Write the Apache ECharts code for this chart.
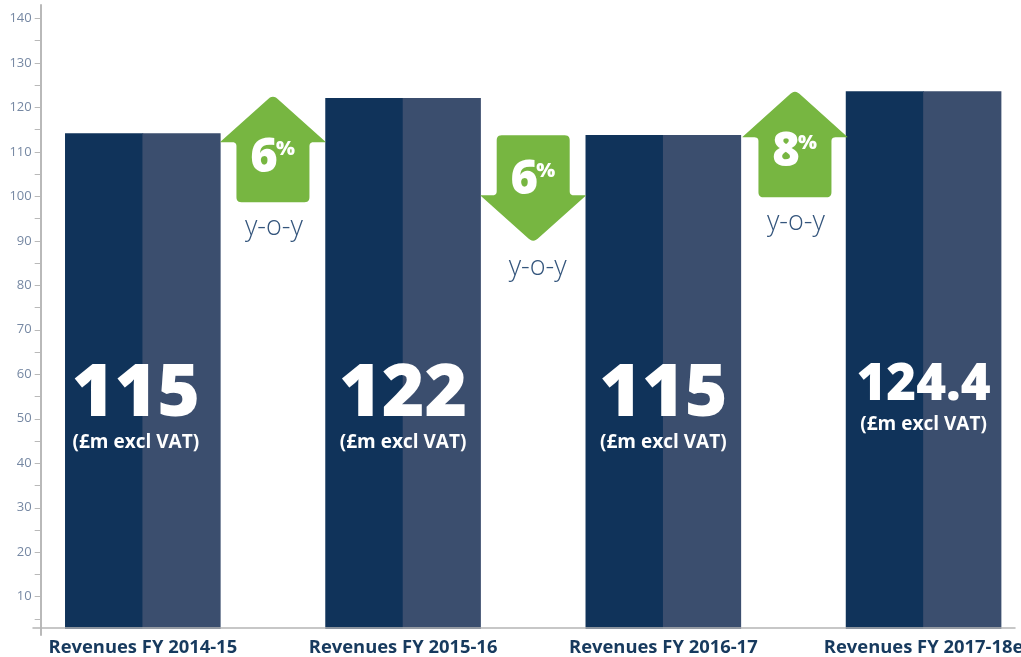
<!DOCTYPE html>
<html><head><meta charset="utf-8">
<style>html,body{margin:0;padding:0;background:#fff}#c{width:1021px;height:657px}</style>
<script src="https://cdn.jsdelivr.net/npm/echarts@6/dist/echarts.min.js"></script>
</head><body><div id="c"></div>
<script>
var categories = ['Revenues FY 2014-15','Revenues FY 2015-16','Revenues FY 2016-17','Revenues FY 2017-18e'];
var barValues = [114.2, 122.1, 113.8, 123.6];
var bigLabels = ['115','122','115','124.4'];
var bigLabelAt = [55.3, 55.3, 55.3, 57.5];
var subLabel = '(£m excl VAT)';
var subLabelAt = [44.6, 44.6, 44.6, 48.7];
var bigSizes = [73, 73, 73, 51];
var changes = ['6','6','8'];
var changeDirs = [1,-1,1];
var tipValues = [122.5, 89.9, 123.6];
var yoyAt = [93, 84, 94.2];
var tickValues = [5,10,15,20,25,30,35,40,45,50,55,60,65,70,75,80,85,90,95,100,105,110,115,120,125,130,135,140];
var labelValues = [10,20,30,40,50,60,70,80,90,100,110,120,130,140];

var GREEN='#77b641', DARK='#10335a', LIGHT='#3b4e6e', FONT='"Open Sans"';

function roundPoly(pts, radii){
  var out=[], n=pts.length;
  for(var k=0;k<n;k++){
    var p=pts[k], a=pts[(k+n-1)%n], b=pts[(k+1)%n], r=radii[k];
    var la=Math.hypot(a[0]-p[0],a[1]-p[1]), lb=Math.hypot(b[0]-p[0],b[1]-p[1]);
    var s=[p[0]+(a[0]-p[0])*r/la,p[1]+(a[1]-p[1])*r/la], e=[p[0]+(b[0]-p[0])*r/lb,p[1]+(b[1]-p[1])*r/lb];
    for(var t=0;t<=6;t++){
      var u=t/6, v=1-u;
      out.push([v*v*s[0]+2*u*v*p[0]+u*u*e[0], v*v*s[1]+2*u*v*p[1]+u*u*e[1]]);
    }
  }
  return out;
}
function labelItem(params, api){
  var i=params.dataIndex;
  var cx=api.coord([i,0])[0]+(i===0?-7:0);
  return {type:'group',children:[
    {type:'text',style:{text:bigLabels[i],x:cx,y:api.coord([i,bigLabelAt[i]])[1],align:'center',verticalAlign:'middle',
      font:'800 '+bigSizes[i]+'px '+FONT,fill:'#fff'}},
    {type:'text',style:{text:subLabel,x:cx,y:api.coord([i,subLabelAt[i]])[1],align:'center',verticalAlign:'middle',
      font:'700 19px '+FONT,fill:'#fff'}}
  ]};
}
function arrowItem(params, api){
  var i=params.dataIndex;
  var d=changeDirs[i];
  var x0=api.coord([i,0])[0], x1=api.coord([i+1,0])[0];
  var cx=(x0+x1)/2+(i===2?1.5:0);
  var base=api.coord([i,tipValues[i]])[1];
  var tip=base-d*1.5;
  var wing=tip+d*47.5, end=tip+d*107.5;
  var w=53,s=36.5;
  var pts=[[cx,tip],[cx+w,wing],[cx+s,wing],[cx+s,end],[cx-s,end],[cx-s,wing],[cx-w,wing]];
  var rad=[6,1,4,5,5,4,1];
  var digitY=(d>0)?base+62-(i===2?1:0):base-61, pctY=digitY-9;
  return {type:'group',children:[
    {type:'polygon',shape:{points:roundPoly(pts,rad)},style:{fill:GREEN}},
    {type:'text',style:{text:changes[i],x:cx-9,y:digitY,align:'center',verticalAlign:'middle',font:'800 47px '+FONT,fill:'#fff'}},
    {type:'text',style:{text:'%',x:cx+12.5,y:pctY,align:'center',verticalAlign:'middle',font:'800 20px '+FONT,fill:'#fff'}},
    {type:'text',style:{text:'y-o-y',x:cx+(i===1?4.5:1),y:api.coord([i,yoyAt[i]])[1],align:'center',verticalAlign:'middle',font:'300 27px '+FONT,fill:'#34557c'}}
  ]};
}

var chart=echarts.init(document.getElementById('c'),null,{renderer:'canvas'});
chart.setOption({
  animation:false,
  backgroundColor:'#fff',
  grid:[
    {left:12.7,width:1041,top:5,height:624,containLabel:false,outerBoundsMode:'none'},
    {left:33,right:6,top:627,height:1,outerBoundsMode:'none'},
    {left:41,width:1,top:5,height:630,outerBoundsMode:'none'}
  ],
  xAxis:[
    {type:'category',gridIndex:0,data:categories,axisLine:{show:false},axisTick:{show:false},
     axisLabel:{color:'#173a5e',fontFamily:FONT,fontWeight:700,fontSize:18.4,margin:10,interval:0,hideOverlap:false}},
    {type:'value',gridIndex:1,min:0,max:1,position:'bottom',z:10,splitLine:{show:false},axisTick:{show:false},axisLabel:{show:false},
     axisLine:{show:true,onZero:false,lineStyle:{color:'#b5b5b5',width:1.5}}},
    {type:'value',gridIndex:2,show:false,min:0,max:1}
  ],
  yAxis:[
    {type:'value',gridIndex:0,min:2.75,max:143,offset:-29,position:'left',splitLine:{show:false},
     axisLine:{show:false},
     axisTick:{show:true,length:7,customValues:tickValues,lineStyle:{color:'#b9b9b9',width:1}},
     axisLabel:{customValues:labelValues,color:'#7688a3',fontFamily:FONT,fontSize:13,margin:10}},
    {type:'value',gridIndex:1,show:false,min:0,max:1},
    {type:'value',gridIndex:2,min:0,max:1,position:'left',splitLine:{show:false},axisTick:{show:false},axisLabel:{show:false},
     axisLine:{show:true,onZero:false,lineStyle:{color:'#b9b9b9',width:2}}}
  ],
  series:[
    {type:'bar',name:'a',xAxisIndex:0,yAxisIndex:0,data:barValues,barWidth:78.2,barGap:'-1%',itemStyle:{color:DARK},silent:true},
    {type:'bar',name:'b',xAxisIndex:0,yAxisIndex:0,data:barValues,barWidth:78.2,barGap:'-1%',itemStyle:{color:LIGHT},silent:true},
    {type:'custom',name:'labels',xAxisIndex:0,yAxisIndex:0,data:barValues,renderItem:labelItem,clip:false,z:5,silent:true,encode:{x:0,y:1}},
    {type:'custom',name:'changes',xAxisIndex:0,yAxisIndex:0,data:tipValues,renderItem:arrowItem,clip:false,z:5,silent:true,encode:{x:0,y:1}}
  ]
});
</script></body></html>
